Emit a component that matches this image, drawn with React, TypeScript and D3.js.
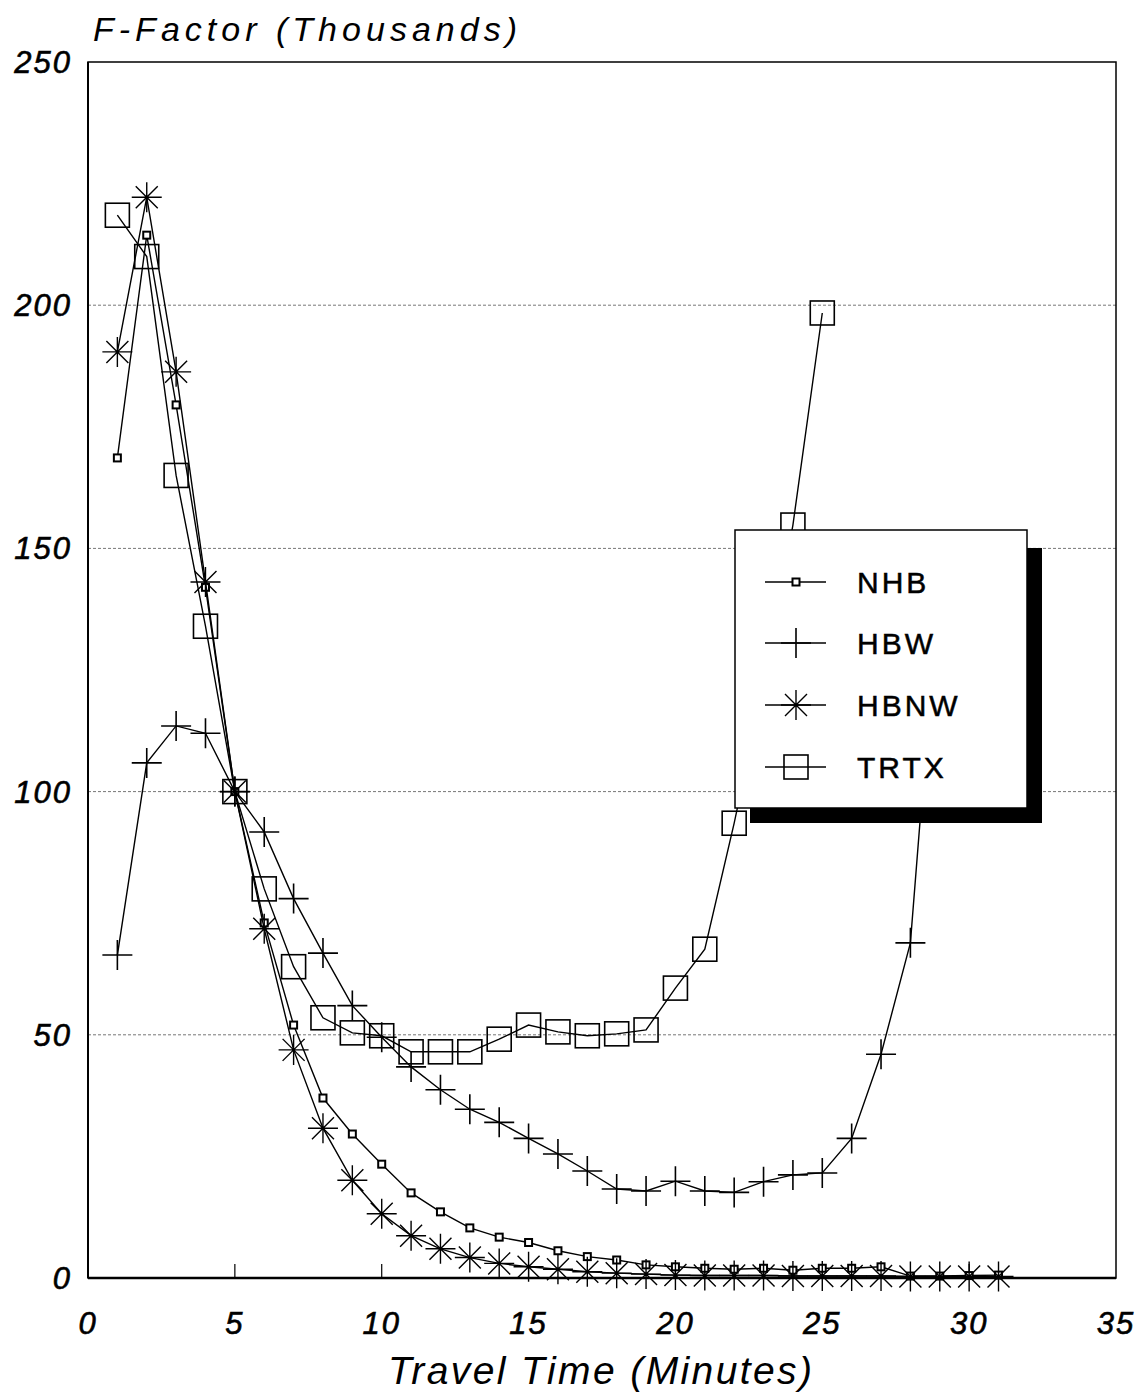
import React from 'react';
import * as d3 from 'd3';

// travel time (minutes) per series index: t = i + 1
const nhb = [168.6, 214.4, 179.5, 142, 100, 73, 52, 37, 29.6, 23.4, 17.5, 13.6, 10.3, 8.4, 7.3, 5.6, 4.4, 3.7, 2.7, 2.3, 2.0, 1.8, 2.0, 1.6, 2.0, 2.0, 2.3, 0.4, 0.4, 0.5, 0.6];
const hbw = [66.4, 105.9, 113.5, 112, 100, 91.7, 78, 66.8, 56, 49.5, 43.4, 38.7, 34.7, 32, 28.7, 25.5, 22, 18.3, 17.9, 19.9, 17.9, 17.6, 19.8, 21.2, 21.6, 28.7, 46, 68.9, 145];
const hbnw = [190.4, 222.2, 186.3, 143.1, 100, 71.8, 46.9, 30.8, 20.1, 13.2, 8.7, 6.0, 4.2, 3.0, 2.3, 1.8, 1.3, 1.0, 0.8, 0.6, 0.5, 0.5, 0.5, 0.4, 0.4, 0.4, 0.4, 0.3, 0.3, 0.3, 0.3];
const trtx = [218.5, 210, 165, 134, 100, 80, 64, 53.5, 50.4, 49.8, 46.5, 46.5, 46.5, 49.1, 52, 50.6, 49.8, 50.2, 51, 59.6, 67.6, 93.5, 122, 154.8, 198.4];

const xTicks = [0, 5, 10, 15, 20, 25, 30, 35];
const yTicks = [0, 50, 100, 150, 200, 250];
const gridValues = [50, 100, 150, 200];

const seriesNames = ['NHB', 'HBW', 'HBNW', 'TRTX'];
const seriesData = [nhb, hbw, hbnw, trtx];

const left = 88, right = 1116, top = 62, bottom = 1278;

const marker = (kind: string) => {
  if (kind === 'NHB') {
    const h = 3.5;
    return <rect x={-h} y={-h} width={h * 2} height={h * 2} fill="#fff" stroke="#000" strokeWidth={2} />;
  }
  if (kind === 'HBW') {
    const h = 15;
    return <path d={`M${-h},0H${h}M0,${-h}V${h}`} stroke="#000" strokeWidth={1.6} fill="none" />;
  }
  if (kind === 'HBNW') {
    const h = 15, d = 11;
    return (
      <path
        d={`M${-h},0H${h}M0,${-h}V${h}M${-d},${-d}L${d},${d}M${-d},${d}L${d},${-d}`}
        stroke="#000"
        strokeWidth={1.4}
        fill="none"
      />
    );
  }
  const h = 12;
  return <rect x={-h} y={-h} width={h * 2} height={h * 2} fill="none" stroke="#000" strokeWidth={1.6} />;
};

export default function App() {
  const x = d3.scaleLinear().domain([0, 35]).range([left, right]);
  const y = d3.scaleLinear().domain([0, 250]).range([bottom, top]);
  const line = d3.line<number>()
    .x((d, i) => x(i + 1))
    .y(d => y(d));

  const lx = 735, ly = 530, lw = 292, lh = 278;
  const rows = [582, 643, 705, 767];

  return (
    <svg width={1148} height={1396} style={{ position: 'absolute', left: 0, top: 0, background: '#fff' }}
      fontFamily="'Liberation Sans', Arial, sans-serif">
      <rect width={1148} height={1396} fill="#fff" />

      {/* dotted gridlines */}
      {gridValues.map(v => (
        <line key={v} x1={left} x2={right} y1={y(v)} y2={y(v)} stroke="#777" strokeWidth={1} strokeDasharray="3,2" />
      ))}

      {/* x ticks */}
      {xTicks.slice(1, -1).map(t => (
        <line key={t} x1={x(t)} x2={x(t)} y1={bottom} y2={bottom - 14} stroke="#000" strokeWidth={1.2} />
      ))}

      {/* series */}
      {seriesData.map((s, k) => (
        <g key={seriesNames[k]}>
          <path d={line(s) || ''} fill="none" stroke="#000" strokeWidth={1.4} />
          {s.map((v, i) => (
            <g key={i} transform={`translate(${x(i + 1)},${y(v)})`}>{marker(seriesNames[k])}</g>
          ))}
        </g>
      ))}

      {/* frame */}
      <rect x={left} y={top} width={right - left} height={bottom - top} fill="none" stroke="#000" strokeWidth={1.5} />
      <line x1={left} x2={right} y1={bottom} y2={bottom} stroke="#000" strokeWidth={2.5} />
      <line x1={left} x2={left} y1={top} y2={bottom} stroke="#000" strokeWidth={2} />

      {/* tick labels */}
      {yTicks.map(v => (
        <text key={v} x={72} y={y(v) + 11} textAnchor="end" fontSize={31} fontStyle="italic"
          letterSpacing={2} stroke="#000" strokeWidth={0.6}>{v}</text>
      ))}
      {xTicks.map(t => (
        <text key={t} x={x(t)} y={1334} textAnchor="middle" fontSize={31} fontStyle="italic"
          letterSpacing={2} stroke="#000" strokeWidth={0.6}>{t}</text>
      ))}

      <text x={93} y={41} fontSize={34} fontStyle="italic" textLength={424} lengthAdjust="spacing">F-Factor (Thousands)</text>
      <text x={388} y={1384} fontSize={39} fontStyle="italic" textLength={424} lengthAdjust="spacing">Travel Time (Minutes)</text>

      {/* legend */}
      <rect x={lx + 15} y={ly + 18} width={lw} height={lh - 3} fill="#000" />
      <rect x={lx} y={ly} width={lw} height={lh} fill="#fff" stroke="#000" strokeWidth={1.5} />
      {seriesNames.map((n, i) => (
        <g key={n}>
          <line x1={765} x2={826} y1={rows[i]} y2={rows[i]} stroke="#000" strokeWidth={1.5} />
          <g transform={`translate(796,${rows[i]})`}>{marker(n)}</g>
          <text x={857} y={rows[i] + 11} fontSize={30} letterSpacing={3} stroke="#000" strokeWidth={0.5}>{n}</text>
        </g>
      ))}
    </svg>
  );
}
